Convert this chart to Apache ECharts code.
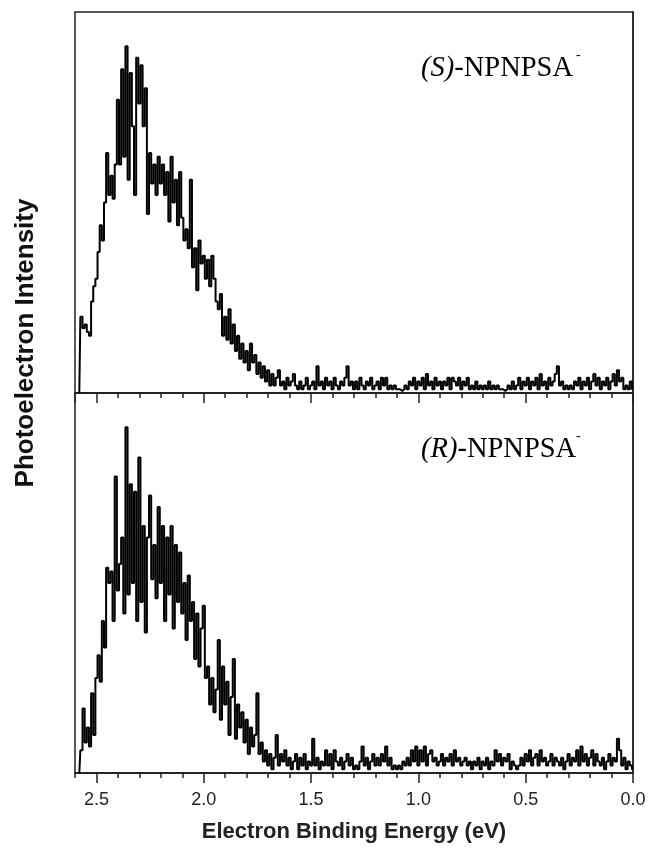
<!DOCTYPE html>
<html>
<head>
<meta charset="utf-8">
<script src="https://cdn.jsdelivr.net/npm/echarts@6/dist/echarts.min.js"></script>
<style>
html,body{margin:0;padding:0;background:#fff;}
#chart{width:650px;height:852px;}
</style>
</head>
<body>
<div id="chart"></div>
<script>
// Energy grid: 2.58 eV down to 0.00 eV in 0.01 eV steps (259 samples)
const energyStart = 2.58;
const energyStep = 0.01;

// (S)-NPNPSA- photoelectron intensity (arb. units, 0-100)
const intensityS = [
  0,20,17,18,16,15,24,28,30,37,
  44,40,50,63,52,57,51,60,77,60,
  85,62,91,56,84,70,52,88,76,86,
  70,80,47,63,55,60,52,62,55,60,
  52,58,45,62,50,56,44,58,46,40,
  43,38,56,33,38,27,40,34,36,30,
  35,28,36,30,24,22,26,15,20,14,
  22,13,18,11,15,9,13,8,11,6,
  13,8,10,5,8,4,7,3,6,2,
  5,2,4,6,2,3,1,4,2,3,
  5,2,1,3,1,2,4,1,2,
  3,1,7,2,3,1,4,2,3,1,
  4,2,1,3,2,4,7,2,3,1,
  3,1,4,2,1,3,2,4,1,2,
  3,1,4,2,4,1,2,1,2,1,
  1,0.5,1,2,1,3,2,4,1,3,
  2,4,1,5,2,3,1,4,2,3,
  1,3,2,4,1,4,3,2,4,1,
  3,2,4,1,2,1,3,1,2,1,
  2,1,3,1,2,1,2,1,1,0.5,
  1,2,1,3,1,2,4,1,3,2,
  4,1,3,2,4,1,5,2,3,1,
  4,2,3,5,7,2,3,1,2,1,
  2,1,3,2,4,1,3,2,4,1,
  3,5,2,4,1,3,2,4,1,3,
  5,2,6,3,4,1,2,1,3,1
];

// (R)-NPNPSA- photoelectron intensity (arb. units, 0-100)
const intensityR = [
  0,6,17,8,12,7,21,10,25,31,
  24,40,33,54,50,53,40,78,48,55,
  62,42,91,47,76,50,74,40,83,45,
  65,37,62,73,51,60,46,70,50,65,
  40,62,47,65,38,60,45,58,42,50,
  35,52,40,45,30,42,28,38,44,25,
  28,18,25,16,22,35,14,28,18,24,
  10,20,30,9,18,12,16,8,14,5,
  12,7,10,21,5,8,3,6,2,5,
  1,4,10,2,5,3,6,2,4,1,
  3,5,1,4,2,5,1,3,2,
  9,2,4,1,3,2,6,2,5,1,
  6,3,2,4,1,3,5,2,4,1,
  2,1,3,7,2,4,1,3,5,2,
  4,2,5,3,7,2,4,1,2,1,
  2,1,3,2,4,2,6,3,7,2,
  6,3,7,2,5,6,3,4,2,3,
  5,2,4,3,5,2,6,3,4,2,
  3,4,2,3,1,3,2,4,1,3,
  2,4,1,3,2,6,3,5,2,4,
  3,5,1,3,2,1,2,4,2,5,
  3,6,2,4,5,2,6,3,4,2,
  3,5,2,4,3,2,4,1,3,5,
  2,4,3,6,2,7,3,5,2,4,
  6,2,5,3,2,4,1,3,5,2,
  4,3,9,6,2,4,1,3,2,1
];

const tickLabels = ['0.0','0.5','1.0','1.5','2.0','2.5'];
const panelLabels = ['(S)', '(R)'];
const speciesName = '-NPNPSA';
const xTitle = 'Electron Binding Energy (eV)';
const yTitle = 'Photoelectron Intensity';

function pairs(vals) {
  return vals.map((v, i) => [+(energyStart - i * energyStep).toFixed(2), v]);
}

const chart = echarts.init(document.getElementById('chart'), null, {renderer: 'canvas'});

const axisColor = '#222';
function minorAxis(g) {
  return {
    type: 'value', gridIndex: g, position: 'bottom', offset: 0,
    min: 0, max: 2.6, interval: 0.1, inverse: true,
    axisLine: {show: true, onZero: false, lineStyle: {color: axisColor, width: 1.5}},
    axisTick: {show: true, length: 5, lineStyle: {color: axisColor, width: 1.5}},
    axisLabel: {show: false}, splitLine: {show: false}
  };
}
function majorAxis(g, labels) {
  const ax = {
    type: 'value', gridIndex: g, position: 'bottom', offset: 0,
    min: 0, max: 2.6, interval: 0.5, inverse: true,
    axisLine: {show: true, onZero: false, lineStyle: {color: axisColor, width: 1.5}},
    axisTick: {show: true, length: 10, lineStyle: {color: axisColor, width: 1.5}},
    axisLabel: {show: labels, showMaxLabel: false, margin: 18,
      fontFamily: 'Liberation Sans, Arial, sans-serif', fontSize: 18, color: '#222',
      formatter: v => tickLabels[Math.round(v / 0.5)] || ''},
    splitLine: {show: false}
  };
  if (labels) {
    ax.name = xTitle;
    ax.nameLocation = 'middle';
    ax.nameGap = 48;
    ax.nameTextStyle = {fontFamily: 'Liberation Sans, Arial, sans-serif', fontSize: 22,
      fontWeight: 'bold', color: '#222'};
  }
  return ax;
}
function yAxis(g) {
  return {
    type: 'value', gridIndex: g, min: 0, max: 100,
    axisLine: {show: true, lineStyle: {color: axisColor, width: 1.5}},
    axisTick: {show: false}, axisLabel: {show: false}, splitLine: {show: false}
  };
}

const labelRich = {
  it: {fontFamily: 'Liberation Serif, Times New Roman, serif', fontStyle: 'italic', fontSize: 28.5, color: '#111'},
  nm: {fontFamily: 'Liberation Serif, Times New Roman, serif', fontSize: 28.5, color: '#111'}
};

const option = {
  backgroundColor: '#fff',
  animation: false,
  grid: [
    {left: 75, right: 17, top: 12, height: 381, show: true, borderColor: axisColor, borderWidth: 1.5, backgroundColor: 'transparent'},
    {left: 75, right: 17, top: 393, height: 380, show: true, borderColor: axisColor, borderWidth: 1.5, backgroundColor: 'transparent'}
  ],
  xAxis: [minorAxis(0), majorAxis(0, false), minorAxis(1), majorAxis(1, true)],
  yAxis: [yAxis(0), yAxis(1)],
  series: [
    {type: 'line', xAxisIndex: 0, yAxisIndex: 0, data: pairs(intensityS), step: 'middle',
     showSymbol: false, symbol: 'none', sampling: null,
     lineStyle: {color: '#000', width: 2}},
    {type: 'line', xAxisIndex: 2, yAxisIndex: 1, data: pairs(intensityR), step: 'middle',
     showSymbol: false, symbol: 'none', sampling: null,
     lineStyle: {color: '#000', width: 2}}
  ],
  graphic: [
    {type: 'text', left: 421, top: 54, style: {
      text: '{it|' + panelLabels[0] + '}{nm|' + speciesName + '}', rich: labelRich}},
    {type: 'text', left: 576, top: 48, style: {
      text: '-', fontFamily: 'Liberation Serif, serif', fontSize: 14, fill: '#111'}},
    {type: 'text', left: 421, top: 435, style: {
      text: '{it|' + panelLabels[1] + '}{nm|' + speciesName + '}', rich: labelRich}},
    {type: 'text', left: 576, top: 429, style: {
      text: '-', fontFamily: 'Liberation Serif, serif', fontSize: 14, fill: '#111'}},
    {type: 'text', x: 26, y: 343, rotation: Math.PI / 2, style: {
      text: yTitle, fontFamily: 'Liberation Sans, Arial, sans-serif', fontSize: 26,
      fontWeight: 'bold', fill: '#111', align: 'center', verticalAlign: 'middle'}}
  ]
};
chart.setOption(option);
</script>
</body>
</html>
